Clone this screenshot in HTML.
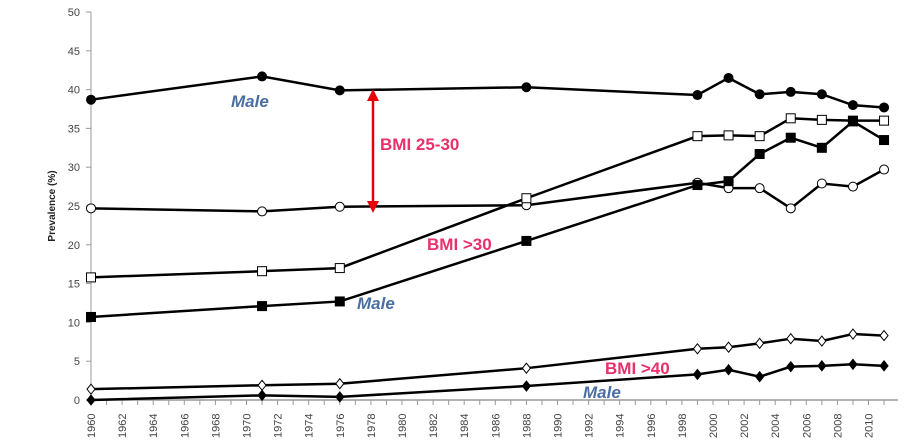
<!DOCTYPE html>
<html><head><meta charset="utf-8"><style>
html,body{margin:0;padding:0;background:#fff;width:905px;height:445px;overflow:hidden}
svg{display:block}
</style></head><body>
<svg id="s" width="905" height="445" xmlns="http://www.w3.org/2000/svg" font-family="Liberation Sans, sans-serif"></svg>
<script>
const s=document.getElementById('s');
const X=y=>91+(y-1960)*15.55, Y=v=>400-7.76*v;
let h='';
// axes
h+='<line x1="91" y1="12" x2="91" y2="400" stroke="#999" stroke-width="1"/>';
h+='<line x1="91" y1="400" x2="898" y2="400" stroke="#999" stroke-width="1.5"/>';
for(let v=0;v<=50;v+=5){h+=`<line x1="86" y1="${Y(v)}" x2="91" y2="${Y(v)}" stroke="#999"/><text x="80" y="${Y(v)+4}" font-size="11" fill="#444" text-anchor="end">${v}</text>`;}
for(let yr=1960;yr<=2011;yr++){h+=`<line x1="${X(yr)}" y1="400" x2="${X(yr)}" y2="405" stroke="#999"/>`;}
for(let yr=1960;yr<=2010;yr+=2){h+=`<text transform="translate(${X(yr)+4},438) rotate(-90)" font-size="11" fill="#444">${yr}</text>`;}
h+='<text transform="translate(55,206) rotate(-90)" font-size="10" font-weight="bold" text-anchor="middle" fill="#222">Prevalence (%)</text>';
const yrs=[1960,1971,1976,1988,1999,2001,2003,2005,2007,2009,2011];
const S=[
['c',1,[38.7,41.7,39.9,40.3,39.3,41.5,39.4,39.7,39.4,38.0,37.7]],
['c',0,[24.7,24.3,24.9,25.1,28.0,27.3,27.3,24.7,27.9,27.5,29.7]],
['s',0,[15.8,16.6,17.0,26.0,34.0,34.1,34.0,36.3,36.1,36.0,36.0]],
['s',1,[10.7,12.1,12.7,20.5,27.7,28.2,31.7,33.8,32.5,35.9,33.5]],
['d',0,[1.4,1.9,2.1,4.1,6.6,6.8,7.3,7.9,7.6,8.5,8.3]],
['d',1,[0,0.6,0.4,1.8,3.3,3.9,3.0,4.3,4.4,4.6,4.4]]];
for(const [m,f,d] of S){
 h+=`<polyline fill="none" stroke="#000" stroke-width="2.5" points="${d.map((v,i)=>X(yrs[i])+','+Y(v)).join(' ')}"/>`;
 d.forEach((v,i)=>{const x=X(yrs[i]),y=Y(v),fc=f?'#000':'#fff';
  if(m=='c')h+=`<circle cx="${x}" cy="${y}" r="4.5" fill="${fc}" stroke="#000" stroke-width="1"/>`;
  else if(m=='s')h+=`<rect x="${x-4.5}" y="${y-4.5}" width="9" height="9" fill="${fc}" stroke="#000" stroke-width="1"/>`;
  else h+=`<polygon points="${x},${y-5} ${x+4},${y} ${x},${y+5} ${x-4},${y}" fill="${fc}" stroke="#000" stroke-width="1"/>`;
 });
}
// arrow
h+='<line x1="373" y1="98" x2="373" y2="205" stroke="#e8000b" stroke-width="2.5"/>';
h+='<polygon points="373,89 367,101 379,101" fill="#e8000b"/><polygon points="373,213 367,201 379,201" fill="#e8000b"/>';
const lab=(x,y,t,c)=>h+=`<text x="${x}" y="${y}" font-size="17" font-weight="bold" ${c?'fill="#e8306a"':'fill="#4a6fa5" font-style="italic"'}>${t}</text>`;
lab(231,107,'Male');lab(357,309,'Male');lab(583,398,'Male');
lab(380,150,'BMI 25-30',1);lab(427,250,'BMI >30',1);lab(605,374,'BMI >40',1);
s.innerHTML=h;
</script>
</body></html>
